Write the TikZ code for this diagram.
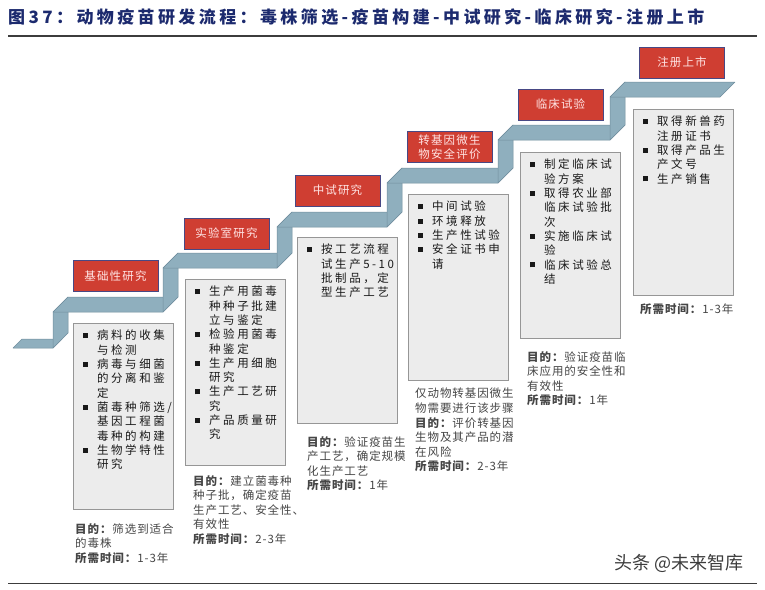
\documentclass[tikz,border=0pt]{standalone}
\usepackage{fontspec}
\setmainfont{Noto Sans CJK SC}
\newfontfamily\titlefont{Noto Sans CJK SC}[LetterSpace=20]
\newfontfamily\labfont{Noto Sans CJK SC}[LetterSpace=10]
\newfontfamily\boxfont{Noto Sans CJK SC}[LetterSpace=22]
\newfontfamily\notefont{Noto Sans CJK SC}[LetterSpace=8]
\definecolor{Ribbon}{RGB}{143,175,190}
\definecolor{RibbonEdge}{RGB}{112,142,158}
\definecolor{LabRed}{RGB}{207,62,50}
\definecolor{LabEdge}{RGB}{72,72,132}
\definecolor{LabText}{RGB}{255,228,228}
\definecolor{BoxFill}{RGB}{236,236,236}
\definecolor{BoxEdge}{RGB}{150,150,150}
\definecolor{BoxText}{RGB}{25,25,25}
\definecolor{NoteGray}{RGB}{70,70,70}
\definecolor{TitleBlue}{RGB}{28,42,110}
\definecolor{RuleGray}{RGB}{60,60,60}
\newcommand{\bul}{\makebox[14pt][l]{\rule[1.7pt]{5pt}{5pt}}}
\newcommand{\ind}{\hspace*{14pt}}
\newcommand{\aim}{\textbf{目的：}}
\newcommand{\dur}{\textbf{所需时间：}}

\begin{document}
\begin{tikzpicture}[x=1pt,y=-1pt,
    tread/.style={fill=Ribbon, draw=RibbonEdge, line width=0.5pt, line join=round},
    lab/.style={draw=LabEdge, fill=LabRed, line width=0.8pt, minimum width=85pt,
        minimum height=31pt, inner sep=0pt, align=center, text=LabText,
        font=\labfont\fontsize{11.5}{14.3}\selectfont},
    stagebox/.style={draw=BoxEdge, fill=BoxFill, line width=0.8pt, minimum width=100pt,
        minimum height=186pt, anchor=north west, inner sep=0pt},
    items/.style={anchor=north west, inner sep=0pt, align=left, text=BoxText,
        font=\boxfont\fontsize{11.5}{14.3}\selectfont},
    note/.style={anchor=north west, inner sep=0pt, align=left, text=NoteGray,
        font=\notefont\fontsize{11.5}{14.6}\selectfont}]

    % Page size
    \useasboundingbox[fill=white] (0,0) rectangle (765,589);

    % Title and rules
    \node[anchor=west, inner sep=0pt, text=TitleBlue,
        font=\titlefont\bfseries\fontsize{17}{17}\selectfont] (title) at (8,17)
        {图37：动物疫苗研发流程：毒株筛选-疫苗构建-中试研究-临床研究-注册上市};
    \draw[RuleGray, line width=1.2pt] (8,36) -- (757,36);
    \draw[RuleGray, line width=1pt] (8,583) -- (757,583);

    % Draw the staircase (first flat piece, then riser and tread per step)
    \draw[tread] (13,348) -- (53,348) -- (62,339) -- (22,339) -- cycle;
    \foreach \xa/\xb/\ya/\yb in {53/163/348/312, 163/277/312/268, 277/387/268/227,
                                 387/498/227/183, 498/610/183/140, 610/720/140/97} {
        \draw[tread] (\xa,\ya) -- (\xa,\yb) -- (\xa+15,\yb-15) -- (\xa+15,\ya-15) -- cycle;
        \draw[tread] (\xa,\yb) -- (\xb,\yb) -- (\xb+15,\yb-15) -- (\xa+15,\yb-15) -- cycle;
    }

    % Stage labels
    \node[lab] (lab1) at (115.5,276) {基础性研究};
    \node[lab] (lab2) at (226.5,233.5) {实验室研究};
    \node[lab] (lab3) at (337.5,190.5) {中试研究};
    \node[lab] (lab4) at (449.5,147) {转基因微生\\物安全评价};
    \node[lab] (lab5) at (560.5,104.5) {临床试验};
    \node[lab] (lab6) at (682,62.5) {注册上市};

    % Stage boxes
    \node[stagebox] (box1) at (73,323) {};
    \node[stagebox] (box2) at (185,279) {};
    \node[stagebox] (box3) at (297,237) {};
    \node[stagebox] (box4) at (408,194) {};
    \node[stagebox] (box5) at (520,152) {};
    \node[stagebox] (box6) at (633,109) {};

    % Box contents
    \node[items] (txt1) at ([shift={(10,7)}]box1.north west)
        {\bul 病料的收集\\ \ind 与检测\\ \bul 病毒与细菌\\ \ind 的分离和鉴\\ \ind 定\\
         \bul 菌毒种筛选/\\ \ind 基因工程菌\\ \ind 毒种的构建\\ \bul 生物学特性\\ \ind 研究};
    \node[items] (txt2) at ([shift={(10,7)}]box2.north west)
        {\bul 生产用菌毒\\ \ind 种种子批建\\ \ind 立与鉴定\\ \bul 检验用菌毒\\ \ind 种鉴定\\
         \bul 生产用细胞\\ \ind 研究\\ \bul 生产工艺研\\ \ind 究\\ \bul 产品质量研\\ \ind 究};
    \node[items] (txt3) at ([shift={(10,7)}]box3.north west)
        {\bul 按工艺流程\\ \ind 试生产5-10\\ \ind 批制品，定\\ \ind 型生产工艺};
    \node[items] (txt4) at ([shift={(10,7)}]box4.north west)
        {\bul 中间试验\\ \bul 环境释放\\ \bul 生产性试验\\ \bul 安全证书申\\ \ind 请};
    \node[items] (txt5) at ([shift={(10,7)}]box5.north west)
        {\bul 制定临床试\\ \ind 验方案\\ \bul 取得农业部\\ \ind 临床试验批\\ \ind 次\\
         \bul 实施临床试\\ \ind 验\\ \bul 临床试验总\\ \ind 结};
    \node[items] (txt6) at ([shift={(10,7)}]box6.north west)
        {\bul 取得新兽药\\ \ind 注册证书\\ \bul 取得产品生\\ \ind 产文号\\ \bul 生产销售};

    % Aims and durations
    \node[note] (note1) at (75,523) {\aim 筛选到适合\\的毒株\\ \dur 1-3年};
    \node[note] (note2) at (193,475) {\aim 建立菌毒种\\种子批，确定疫苗\\生产工艺、安全性、\\有效性\\ \dur 2-3年};
    \node[note] (note3) at (307,436) {\aim 验证疫苗生\\产工艺，确定规模\\化生产工艺\\ \dur 1年};
    \node[note] (note4) at (415,388) {仅动物转基因微生\\物需要进行该步骤\\ \aim 评价转基因\\生物及其产品的潜\\在风险\\ \dur 2-3年};
    \node[note] (note5) at (527,351) {\aim 验证疫苗临\\床应用的安全性和\\有效性\\ \dur 1年};
    \node[note] (note6) at (640,303) {\dur 1-3年};

    % Source mark
    \node[text=RuleGray, font=\fontsize{18}{18}\selectfont] (mark) at (679,563) {头条 @未来智库};
\end{tikzpicture}
\end{document}
